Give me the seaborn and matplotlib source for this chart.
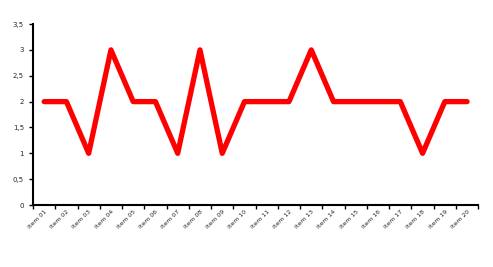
import matplotlib
matplotlib.use("Agg")
import matplotlib.pyplot as plt
import seaborn as sns
import pandas as pd
from matplotlib.ticker import FixedLocator, FuncFormatter

categories = ["Item 01", "Item 02", "Item 03", "Item 04", "Item 05",
              "Item 06", "Item 07", "Item 08", "Item 09", "Item 10",
              "Item 11", "Item 12", "Item 13", "Item 14", "Item 15",
              "Item 16", "Item 17", "Item 18", "Item 19", "Item 20"]
values = [2, 2, 1, 3, 2, 2, 1, 3, 1, 2, 2, 2, 3, 2, 2, 2, 2, 1, 2, 2]
yticks = [0, 0.5, 1, 1.5, 2, 2.5, 3, 3.5]

sns.set_theme(style="white")
plt.rcParams['font.family'] = ['DejaVu Sans']

df = pd.DataFrame({"cat": categories, "val": values, "pos": range(len(categories))})

fig = plt.figure(figsize=(4.93, 2.67), dpi=100)
ax = fig.add_axes([0.067, 0.232, 0.903, 0.678])
sns.lineplot(data=df, x="pos", y="val", ax=ax, color="#ff0000", linewidth=3.8, sort=False)

ax.set_xlim(-0.5, len(categories) - 0.5)
ax.set_ylim(0, 3.5)
ax.set_xticks(list(range(len(categories))))
ax.set_xticklabels(categories, rotation=45, ha="right", rotation_mode="anchor", fontsize=4.5)
ax.xaxis.set_minor_locator(FixedLocator([i + 0.5 for i in range(-1, len(categories))]))
ax.tick_params(axis="x", which="major", length=0, pad=3)
ax.tick_params(axis="x", which="minor", length=3, width=1, direction="out", bottom=True, color="black")
ax.set_yticks(yticks)
ax.yaxis.set_major_formatter(FuncFormatter(lambda v, p: ("%g" % v).replace(".", ",")))
ax.tick_params(axis="y", length=3, width=1, direction="out", left=True, labelsize=5, color="black")
for s in ["top", "right"]:
    ax.spines[s].set_visible(False)
for s in ["left", "bottom"]:
    ax.spines[s].set_color("black")
    ax.spines[s].set_linewidth(1.5)
ax.set_xlabel("")
ax.set_ylabel("")
ax.grid(False)

fig.savefig("out.png", dpi=100)
